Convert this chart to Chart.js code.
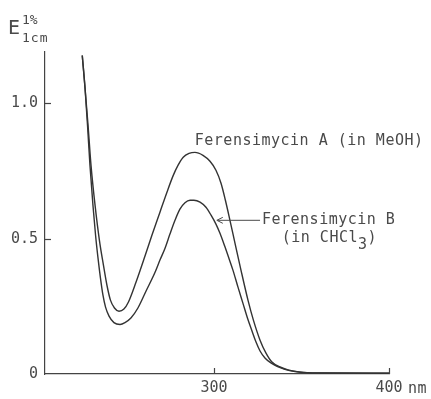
<!DOCTYPE html>
<html><head><meta charset="utf-8">
<script src="https://cdn.jsdelivr.net/npm/chart.js@4/dist/chart.umd.min.js"></script>
<style>html,body{margin:0;padding:0;background:#fff;}#wrap{width:431px;height:399px;}</style>
</head><body><div id="wrap"><canvas id="c" width="431" height="399"></canvas></div>
<script>
// Ferensimycin A (in MeOH) - wavelength (nm) and E(1%,1cm)
const wavelengthsA = [224.7, 226.3, 228.0, 229.7, 232.0, 234.5, 236.8, 238.8, 240.8, 243.1, 245.7, 248.5, 251.1, 255.4, 260.5, 264.5, 269.1, 273.1, 276.7, 279.4, 282.4, 285.7, 289.1, 293.7, 297.7, 301.1, 304.0, 306.5, 309.1, 312.0, 315.4, 319.4, 322.5, 326.3, 329.7, 333.1, 337.7, 342.3, 349.1, 360.5, 400.0];
const absorbA     = [1.177, 1.055, 0.919, 0.771, 0.624, 0.494, 0.402, 0.328, 0.273, 0.244, 0.232, 0.240, 0.266, 0.339, 0.435, 0.513, 0.598, 0.672, 0.734, 0.771, 0.801, 0.815, 0.819, 0.808, 0.786, 0.753, 0.705, 0.642, 0.568, 0.483, 0.384, 0.273, 0.199, 0.125, 0.077, 0.044, 0.026, 0.015, 0.007, 0.004, 0.003];
// Ferensimycin B (in CHCl3)
const wavelengthsB = [224.7, 226.3, 227.7, 229.1, 230.8, 232.3, 233.7, 235.1, 236.5, 238.0, 240.0, 242.8, 246.3, 249.1, 252.5, 256.5, 261.1, 266.3, 269.1, 272.0, 274.8, 277.7, 280.5, 283.4, 286.3, 288.5, 292.0, 295.4, 298.3, 301.1, 303.4, 306.3, 308.5, 310.8, 313.7, 316.5, 319.1, 321.7, 324.0, 326.3, 329.1, 332.5, 336.0, 340.5, 346.3, 354.8, 400.0];
const absorbB     = [1.177, 1.055, 0.919, 0.771, 0.624, 0.513, 0.428, 0.354, 0.292, 0.247, 0.214, 0.190, 0.183, 0.190, 0.207, 0.244, 0.306, 0.376, 0.421, 0.465, 0.517, 0.568, 0.609, 0.633, 0.642, 0.642, 0.635, 0.616, 0.587, 0.554, 0.520, 0.469, 0.428, 0.384, 0.321, 0.262, 0.207, 0.159, 0.118, 0.085, 0.059, 0.041, 0.028, 0.017, 0.009, 0.004, 0.003];
const yTicks = [0, 0.5, 1.0];
const yTickLabels = ['0', '0.5', '1.0'];
const xTicks = [300, 400];
const xTickLabels = ['300', '400'];
const xUnit = 'nm';
const labelA = 'Ferensimycin A (in MeOH)';
const labelB1 = 'Ferensimycin B';
const labelB2 = '(in CHCl';
const labelB2sub = '3';
const labelB2end = ')';

const FONT = '"DejaVu Sans Mono", monospace';
const TXT = '#4a4a4a';
const LINE = '#333333';

const annot = {
  id: 'annot',
  afterDraw(chart) {
    const ctx = chart.ctx, xs = chart.scales.x, ys = chart.scales.y, ca = chart.chartArea;
    ctx.save();
    ctx.strokeStyle = '#444'; ctx.lineWidth = 1.2;
    // inward tick marks
    yTicks.forEach(v => { if (v > 0) { const y = Math.round(ys.getPixelForValue(v)) + 0.5; ctx.beginPath(); ctx.moveTo(ca.left, y); ctx.lineTo(ca.left + 6, y); ctx.stroke(); } });
    xTicks.forEach(v => { const x = Math.round(xs.getPixelForValue(v)) + 0.5; ctx.beginPath(); ctx.moveTo(x, ca.bottom); ctx.lineTo(x, ca.bottom - 6); ctx.stroke(); });
    ctx.fillStyle = TXT;
    ctx.textBaseline = 'middle';
    ctx.textAlign = 'left';
    ctx.font = '15px ' + FONT;
    ctx.letterSpacing = '0.5px';
    // unit label
    const x400 = xs.getPixelForValue(400);
    ctx.fillText(xUnit, x400 + 19, ca.bottom + 15);
    // series A label
    ctx.fillText(labelA, xs.getPixelForValue(289.0), ys.getPixelForValue(0.86));
    // series B label and arrow
    const yB = ys.getPixelForValue(0.568);
    ctx.fillText(labelB1, xs.getPixelForValue(327.4), yB);
    const xb2 = xs.getPixelForValue(338.7), yb2 = ys.getPixelForValue(0.502);
    ctx.fillText(labelB2, xb2, yb2);
    const w2 = ctx.measureText(labelB2).width;
    ctx.fillText(labelB2sub, xb2 + w2, yb2 + 7);
    const w3 = ctx.measureText(labelB2sub).width;
    ctx.fillText(labelB2end, xb2 + w2 + w3, yb2);
    const tipX = xs.getPixelForValue(301.6), tailX = xs.getPixelForValue(326.3);
    ctx.strokeStyle = TXT; ctx.lineWidth = 1;
    ctx.beginPath(); ctx.moveTo(tailX, yB); ctx.lineTo(tipX + 1, yB); ctx.stroke();
    ctx.beginPath(); ctx.moveTo(tipX + 6, yB - 3); ctx.lineTo(tipX, yB); ctx.lineTo(tipX + 6, yB + 3); ctx.stroke();
    // axis title E 1% 1cm
    ctx.letterSpacing = '0px';
    ctx.textBaseline = 'alphabetic';
    ctx.font = '20px ' + FONT;
    ctx.fillText('E', 8, 34);
    ctx.font = '13px ' + FONT;
    ctx.fillText('1%', 22, 24);
    ctx.letterSpacing = '1px';
    ctx.fillText('1cm', 22, 42);
    ctx.restore();
  }
};

new Chart(document.getElementById('c'), {
  type: 'line',
  data: {
    datasets: [
      { label: labelA, data: wavelengthsA.map((w, i) => ({ x: w, y: absorbA[i] })) },
      { label: labelB1, data: wavelengthsB.map((w, i) => ({ x: w, y: absorbB[i] })) }
    ]
  },
  options: {
    responsive: false, animation: false, devicePixelRatio: 1,
    layout: { padding: { top: 52, right: 42, left: 0, bottom: 0 } },
    elements: {
      line: { borderColor: LINE, borderWidth: 1.4, tension: 0.4, cubicInterpolationMode: 'monotone', fill: false },
      point: { radius: 0 }
    },
    plugins: { legend: { display: false }, tooltip: { enabled: false } },
    scales: {
      x: {
        type: 'linear', min: 203.4, max: 400,
        afterFit(s) { s.height = 25; },
        afterBuildTicks(s) { s.ticks = xTicks.map(v => ({ value: v })); },
        ticks: { callback: (v) => xTickLabels[xTicks.indexOf(v)], font: { family: FONT, size: 15 }, color: TXT, padding: 5, maxRotation: 0 },
        grid: { drawOnChartArea: false, drawTicks: false },
        border: { display: true, color: '#444', width: 1.2 }
      },
      y: {
        type: 'linear', min: 0, max: 1.19,
        afterFit(s) { s.width = 45; },
        afterBuildTicks(s) { s.ticks = yTicks.map(v => ({ value: v })); },
        ticks: { callback: (v) => yTickLabels[yTicks.indexOf(v)], font: { family: FONT, size: 15 }, color: TXT, padding: 7 },
        grid: { drawOnChartArea: false, drawTicks: false },
        border: { display: true, color: '#444', width: 1.2 }
      }
    }
  },
  plugins: [annot]
});
</script></body></html>
